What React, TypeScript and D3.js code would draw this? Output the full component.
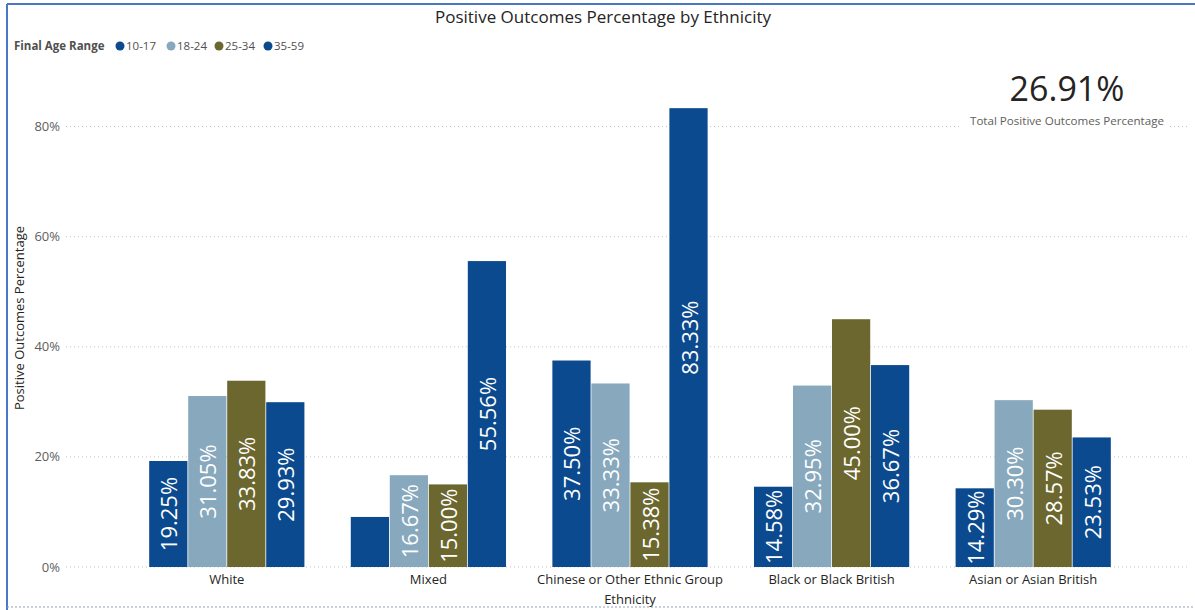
import React from "react";
import * as d3 from "d3";

const categories = ["White", "Mixed", "Chinese or Other Ethnic Group", "Black or Black British", "Asian or Asian British"];
const series = ["10-17", "18-24", "25-34", "35-59"];
const values: number[][] = [
  [19.25, 31.05, 33.83, 29.93],
  [9.09, 16.67, 15.0, 55.56],
  [37.5, 33.33, 15.38, 83.33],
  [14.58, 32.95, 45.0, 36.67],
  [14.29, 30.3, 28.57, 23.53],
];
const colors = ["#0B4A8E", "#87A8BD", "#6B672E", "#0B4A8E"];
const yTicks = [0, 20, 40, 60, 80];
const kpiValue = "26.91%";
const kpiLabel = "Total Positive Outcomes Percentage";

const W = 1195;
const H = 610;
const FONT = "'Segoe UI', 'Open Sans', 'Noto Sans', sans-serif";

export default function App() {
  const y = d3.scaleLinear().domain([0, 80]).range([567, 126.5]);
  const x0 = d3.scaleBand<string>().domain(categories).range([126, 1134]).paddingInner(0.23).paddingOuter(0.115);
  const x1 = d3.scaleBand<string>().domain(series).range([0, x0.bandwidth()]).paddingInner(0.02);
  const fmt = (v: number) => v.toFixed(2) + "%";
  const legendPos = [120, 171, 219, 268];

  return (
    <svg width={W} height={H} style={{ position: "absolute", left: 0, top: 0, background: "#fff" }} fontFamily={FONT}>
      <rect x={0} y={0} width={W} height={H} fill="#fff" />
      {/* borders */}
      <line x1={7} y1={4} x2={W} y2={4} stroke="#4A76C6" strokeWidth={2} />
      <line x1={7} y1={4} x2={7} y2={H} stroke="#4A76C6" strokeWidth={2} />
      <line x1={7} y1={607} x2={W} y2={607} stroke="#8FA0B8" strokeWidth={1} strokeDasharray="2,2" />

      <text x={603} y={23} textAnchor="middle" fontSize={17} fill="#252423">Positive Outcomes Percentage by Ethnicity</text>

      {/* legend */}
      <g fontSize={11.5} fill="#505050">
        <text x={14} y={50} fontWeight="bold">Final Age Range</text>
        {series.map((s, i) => (
          <g key={s}>
            <circle cx={legendPos[i]} cy={46} r={4.5} fill={colors[i]} />
            <text x={legendPos[i] + 6} y={50}>{s}</text>
          </g>
        ))}
      </g>

      {/* gridlines */}
      {yTicks.map((t) => (
        <g key={t}>
          <line x1={66} x2={1190} y1={y(t)} y2={y(t)} stroke="#C8C6C4" strokeWidth={1} strokeDasharray="1,3" />
          <text x={60} y={y(t) + 4.5} textAnchor="end" fontSize={13} fill="#605E5C">{t}%</text>
        </g>
      ))}

      <text transform={`translate(24,318) rotate(-90)`} textAnchor="middle" fontSize={13} fill="#252423">Positive Outcomes Percentage</text>

      {/* bars */}
      {categories.map((c, ci) => (
        <g key={c} transform={`translate(${x0(c)},0)`}>
          {series.map((s, si) => {
            const v = values[ci][si];
            const bx = x1(s)!;
            const bw = x1.bandwidth();
            const top = y(v);
            const h = y(0) - top;
            return (
              <g key={s}>
                <rect x={bx} y={top} width={bw} height={h} fill={colors[si]} />
                {h > 60 && (
                  <text
                    transform={`translate(${bx + bw / 2},${top + h / 2}) rotate(-90)`}
                    fontSize={22}
                    fill="#fff"
                    textAnchor="middle"
                    dominantBaseline="central"
                  >
                    {fmt(v)}
                  </text>
                )}
              </g>
            );
          })}
          <text x={x0.bandwidth() / 2} y={584} textAnchor="middle" fontSize={13} fill="#252423">{c}</text>
        </g>
      ))}

      <text x={630} y={604} textAnchor="middle" fontSize={13} fill="#252423">Ethnicity</text>

      {/* KPI card */}
      <rect x={962} y={62} width={208} height={70} fill="#fff" />
      <text x={1067} y={101} textAnchor="middle" fontSize={34} fill="#252423">{kpiValue}</text>
      <text x={1067} y={125} textAnchor="middle" fontSize={11.6} fill="#605E5C">{kpiLabel}</text>
    </svg>
  );
}
